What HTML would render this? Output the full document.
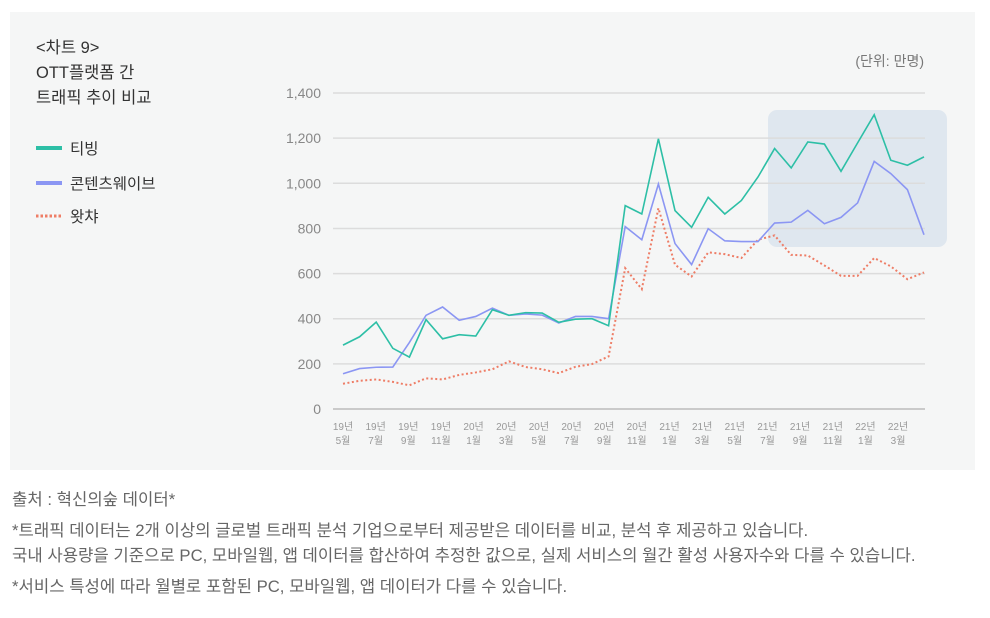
<!DOCTYPE html>
<html><head><meta charset="utf-8"><style>
body{margin:0;width:990px;height:618px;background:#fff;font-family:"Liberation Sans","Noto Sans CJK KR",sans-serif;position:relative;overflow:hidden}
#panel{position:absolute;left:10px;top:12px;width:965px;height:458px;background:#f5f6f6}
.t{position:absolute;color:#333;font-size:16.5px;line-height:25px}
.note{position:absolute;left:12px;color:#666;font-size:16.7px;white-space:nowrap}
</style></head><body>
<div id="panel"></div>
<div class="t" style="left:36px;top:36px">&lt;차트 9&gt;<br>OTT플랫폼 간<br>트래픽 추이 비교</div>
<svg id="c" width="990" height="618" style="position:absolute;left:0;top:0"></svg>
<div class="note" style="top:486px">출처 : 혁신의숲 데이터*</div>
<div class="note" style="top:517px">*트래픽 데이터는 2개 이상의 글로벌 트래픽 분석 기업으로부터 제공받은 데이터를 비교, 분석 후 제공하고 있습니다.</div>
<div class="note" style="top:542px">국내 사용량을 기준으로 PC, 모바일웹, 앱 데이터를 합산하여 추정한 값으로, 실제 서비스의 월간 활성 사용자수와 다를 수 있습니다.</div>
<div class="note" style="top:573px">*서비스 특성에 따라 월별로 포함된 PC, 모바일웹, 앱 데이터가 다를 수 있습니다.</div>
<script>
const yTicks=[0,200,400,600,800,1000,1200,1400];
const yTickLabels=["0","200","400","600","800","1,000","1,200","1,400"];
const xLabelsTop=["19년","19년","19년","19년","20년","20년","20년","20년","20년","20년","21년","21년","21년","21년","21년","21년","22년","22년"];
const xLabelsBottom=["5월","7월","9월","11월","1월","3월","5월","7월","9월","11월","1월","3월","5월","7월","9월","11월","1월","3월"];
const tving=[283,320,385,269,230,396,311,329,323,440,415,427,425,384,398,400,369,901,864,1197,879,805,938,864,924,1028,1154,1068,1183,1174,1053,1179,1304,1102,1080,1117];
const wavve=[156,179,185,186,295,415,452,393,410,447,415,421,416,381,410,410,400,808,750,997,733,640,799,745,742,742,824,828,880,821,849,913,1097,1043,972,772];
const watcha=[112,125,131,120,105,136,131,151,162,176,211,186,176,159,187,199,233,624,531,890,639,587,694,686,669,750,769,683,680,636,590,590,669,632,575,605];
const svg=document.getElementById('c');const NS='http://www.w3.org/2000/svg';
const x0=343,x1=924,yb=409,ppu=0.2257;
const n=tving.length;
const X=i=>x0+i*(x1-x0)/(n-1);
const Y=v=>yb-v*ppu;
function mk(t,a){const e=document.createElementNS(NS,t);for(const k in a)e.setAttribute(k,a[k]);svg.appendChild(e);return e;}
let hb=mk('rect',{x:768,y:110,width:179,height:137,rx:9,fill:'#dfe7ef'});


yTicks.forEach((v,i)=>{
 let g=mk('line',{x1:333,x2:925,y1:Y(v),y2:Y(v),stroke:v===0?'#bbb':'#dcdcdc','stroke-width':1.5});
 
 
 let t=mk('text',{x:321,y:Y(v)+5,'text-anchor':'end','font-size':14,fill:'#888'});t.textContent=yTickLabels[i];
 
 
});
xLabelsTop.forEach((s,i)=>{
 const x=343+i*32.65;
 let t=mk('text',{x:x,y:430,'text-anchor':'middle','font-size':10,fill:'#999'});t.textContent=s;
 
 
 let t2=mk('text',{x:x,y:444,'text-anchor':'middle','font-size':10,fill:'#999'});t2.textContent=xLabelsBottom[i];
 
 
});
function line(d,c,dash,name){
 let p=mk('polyline',{points:d.map((v,i)=>X(i)+','+Y(v)).join(' '),fill:'none',stroke:c,'stroke-width':dash?2:1.6,'stroke-dasharray':dash||'none'});
 
 
}
line(watcha,'#ee7d66','2 2.5','watcha-line');
line(wavve,'#8b96f3',null,'wavve-line');
line(tving,'#2dbfa6',null,'tving-line');
const leg=[['티빙','#2dbfa6',null,148],['콘텐츠웨이브','#8b96f3',null,183],['왓챠','#ee7d66','2.5 2',216]];
leg.forEach(l=>{
 let s=mk('line',{x1:36,x2:62,y1:l[3],y2:l[3],stroke:l[1],'stroke-width':l[2]?3:4,'stroke-dasharray':l[2]||'none'});
 
 
 let t=mk('text',{x:70,y:l[3]+6,'font-size':15.5,fill:'#333'});t.textContent=l[0];
 
 
});
let u=mk('text',{x:924,y:66,'text-anchor':'end','font-size':14,fill:'#777'});u.textContent='(단위: 만명)';


</script>
</body></html>
